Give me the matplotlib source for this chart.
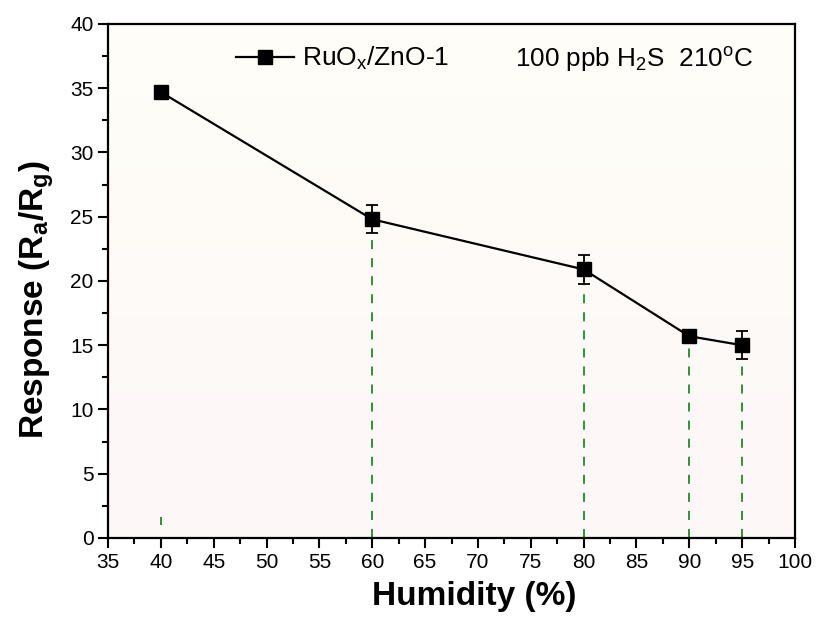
import matplotlib
matplotlib.use("Agg")
import matplotlib.pyplot as plt
import numpy as np

# humidity sweep, RuOx/ZnO-1 sensor, 100 ppb H2S at 210 C
humidity = [40, 60, 80, 90, 95]
response = [34.7, 24.8, 20.9, 15.7, 15.0]
resp_err = [0.3, 1.1, 1.1, 0.25, 1.1]

# green guide lines under each point
drop_bottom = [1.0, 0, 0, 0, 0]
drop_top = [1.6, 23.6, 19.8, 15.2, 13.6]

x_ticks = list(range(35, 101, 5))
y_ticks = list(range(0, 41, 5))

sans = ["Liberation Sans", "DejaVu Sans"]
plt.rcParams["font.family"] = sans
plt.rcParams["mathtext.fontset"] = "custom"
plt.rcParams["mathtext.rm"] = "Liberation Sans"
plt.rcParams["mathtext.it"] = "Liberation Sans"
plt.rcParams["mathtext.bf"] = "Liberation Sans:bold"

fig = plt.figure(figsize=(8.19, 6.21), dpi=100)
ax = fig.add_axes([0.1319, 0.1337, 0.8388, 0.8277])

# soft ivory -> pink background
grad = np.linspace(0, 1, 256).reshape(-1, 1)
top_c = np.array([255, 254, 247]) / 255
bot_c = np.array([253, 247, 248]) / 255
img = top_c * (1 - grad[..., None]) + bot_c * grad[..., None]
ax.imshow(img, extent=[0, 1, 0, 1], transform=ax.transAxes, aspect="auto", zorder=0)

ax.vlines(humidity, drop_bottom, drop_top, colors="#1f8a24", linewidth=1.3,
          linestyles=(0, (5.0, 5.0)), zorder=2)

ax.errorbar(humidity, response, yerr=resp_err, fmt="none", ecolor="black",
            capsize=4.5, capthick=1.3, elinewidth=1.3, zorder=3)
ax.plot(humidity, response, color="black", linewidth=1.6, marker="s",
        markersize=10.5, label="RuO$_\\mathrm{x}$/ZnO-1", zorder=4)

ax.set_xlim(35, 100)
ax.set_ylim(0, 40)
ax.set_xticks(x_ticks)
ax.set_yticks(y_ticks)
ax.set_xticks(np.arange(37.5, 100, 5), minor=True)
ax.set_yticks(np.arange(2.5, 40, 5), minor=True)
ax.tick_params(axis="both", which="major", direction="out", length=7, width=1.5,
               labelsize=15)
ax.tick_params(axis="both", which="minor", direction="out", length=4, width=1.5)
for s in ax.spines.values():
    s.set_linewidth(1.6)

ax.set_xlabel("Humidity (%)", fontsize=24, fontweight="bold", labelpad=7)
ax.set_ylabel("Response (R$_\\mathbf{a}$/R$_\\mathbf{g}$)", fontsize=24,
              fontweight="bold", labelpad=10)
ax.xaxis.label.set_x(0.533)
ax.yaxis.label.set_y(0.463)

ax.legend(loc="upper left", bbox_to_anchor=(0.16, 0.995), frameon=False,
          fontsize=19, handlelength=2.2, handletextpad=0.3, borderaxespad=0.3)
ax.text(0.592, 0.93, "100 ppb H$_2$S  210$^\\mathrm{o}$C", transform=ax.transAxes,
        fontsize=18.8, ha="left", va="center")

fig.savefig("out.png", dpi=100)
